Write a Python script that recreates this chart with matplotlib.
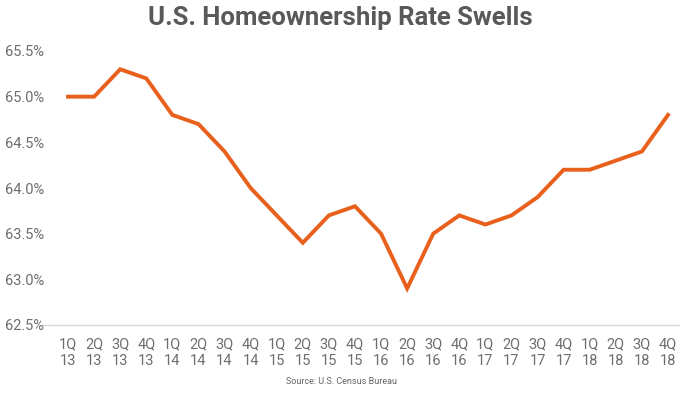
import numpy as np
import matplotlib
matplotlib.use("Agg")
import matplotlib.pyplot as plt

plt.rcParams['font.family'] = ['Roboto', 'DejaVu Sans']

quarters = ["1Q", "2Q", "3Q", "4Q"] * 6
years = ["13"] * 4 + ["14"] * 4 + ["15"] * 4 + ["16"] * 4 + ["17"] * 4 + ["18"] * 4
rate = [65.0, 65.0, 65.3, 65.2, 64.8, 64.7, 64.4, 64.0,
        63.7, 63.4, 63.7, 63.8, 63.5, 62.9, 63.5, 63.7,
        63.6, 63.7, 63.9, 64.2, 64.2, 64.3, 64.4, 64.8]
yticks = [62.5, 63.0, 63.5, 64.0, 64.5, 65.0, 65.5]

W, H = 680, 393
fig = plt.figure(figsize=(W / 100, H / 100), dpi=100)
# axes placed in pixel terms
left, right, top, bottom = 43, 680, 51, 325
ax = fig.add_axes([left / W, 1 - bottom / H, (right - left) / W, (bottom - top) / H])

x = np.arange(len(rate))
ax.plot(x, rate, color="#E8601C", lw=2.8, clip_on=False, solid_joinstyle="miter")

ax.set_xlim(-0.96, 23.46)
ax.set_ylim(62.5, 65.5)
ax.set_yticks(yticks)
ax.set_yticklabels([f"{v:.1f}%" for v in yticks])
ax.set_xticks(x)
ax.set_xticklabels([f"{q}\n{y}" for q, y in zip(quarters, years)], linespacing=1.25)

for s in ["top", "right", "left"]:
    ax.spines[s].set_visible(False)
ax.spines["bottom"].set_color("#d9d9d9")
ax.spines["bottom"].set_linewidth(1.0)
ax.tick_params(length=0, labelsize=10.5, colors="#6e6e6e")
ax.tick_params(axis="x", pad=9)
for lab in ax.get_yticklabels():
    lab.set_horizontalalignment("left")
    lab.set_x(-left / (right - left) + 5 / (right - left))
ax.yaxis.set_tick_params(pad=0)

fig.text(0.5, 1 - 18 / H, "U.S. Homeownership Rate Swells", ha="center", va="center",
         fontsize=18.5, fontweight="bold", color="#595959")
fig.text(342 / W, 1 - 382 / H, "Source: U.S. Census Bureau", ha="center", va="center",
         fontsize=6.5, color="#666666")

fig.savefig("out.png", dpi=100)
